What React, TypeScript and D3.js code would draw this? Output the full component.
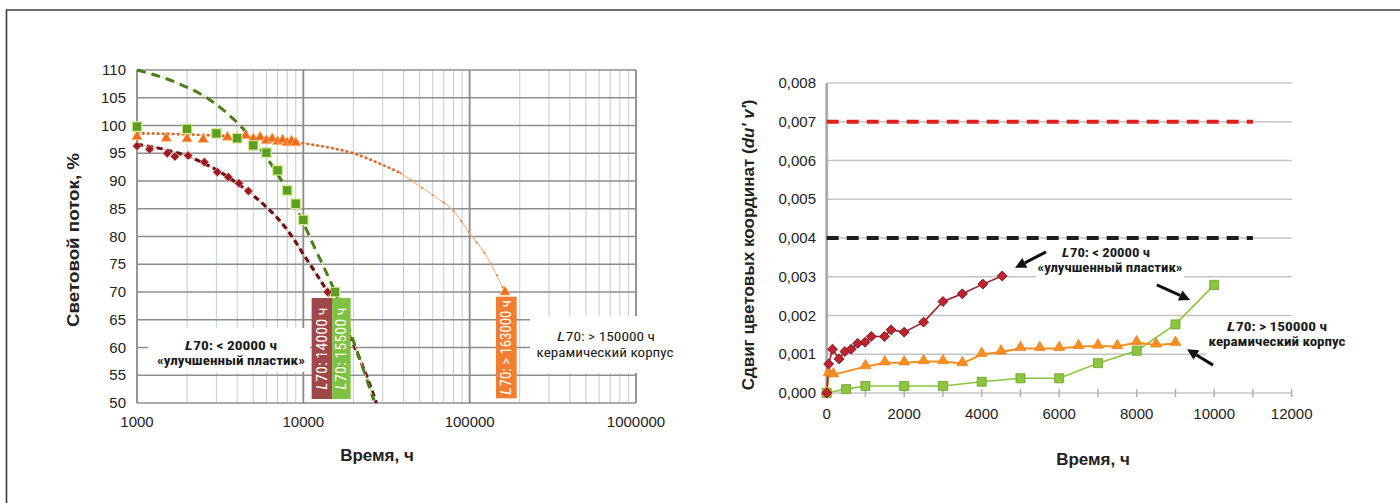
import React from "react";
import * as d3 from "d3";

// ---------- Left panel: relative luminous flux vs operating time (log axis) ----------
const fluxTicks = [50, 55, 60, 65, 70, 75, 80, 85, 90, 95, 100, 105, 110];
const hourTicksLog = [1000, 10000, 100000, 1000000];

// measured points, "improved plastic" package (dark red)
const plasticHours = [1000, 1190, 1520, 1690, 2030, 2540, 3040, 3540, 4100, 4670, 14000];
const plasticFlux = [96.3, 95.7, 95.0, 94.4, 94.6, 93.4, 91.6, 90.7, 89.6, 88.2, 70];

// measured points, second plastic package (green)
const greenHours = [1000, 2000, 3000, 4000, 5000, 6000, 7000, 8000, 9000, 10000, 15500];
const greenFlux = [99.8, 99.4, 98.6, 97.7, 96.4, 95.1, 91.9, 88.3, 85.9, 83.0, 70];

// measured points, ceramic package (orange)
const ceramicHours = [1000, 1500, 2000, 2500, 3000, 3500, 4000, 4500, 5000, 5500, 6000, 6500, 7000, 7500, 8000, 8500, 9000, 163000];
const ceramicFlux = [98.0, 97.7, 97.6, 97.5, 98.3, 97.9, 97.8, 98.2, 97.6, 97.9, 97.3, 97.6, 97.1, 97.4, 96.9, 97.2, 96.9, 70];

// fitted trend curves (projection to L70)
const plasticTrendHours = [1000, 1500, 2000, 3000, 4000, 5000, 6000, 7000, 8000, 9000, 10000, 12000, 14000, 17000, 20000, 23000, 27500];
const plasticTrendFlux = [96.6, 95.6, 94.5, 92.0, 89.6, 87.4, 85.3, 83.3, 81.2, 79.0, 76.8, 73.2, 70, 65.3, 60.6, 56.3, 50];

const greenTrendHours = [1000, 1700, 2750, 4160, 5900, 8300, 11900, 15500, 20000, 26500];
const greenTrendFlux = [110, 107.8, 104.6, 100, 94.6, 87.4, 77.5, 70, 61.2, 50.5];

const ceramicTrendHours = [1000, 2000, 4000, 7000, 10000, 15000, 20000, 28000, 38000, 50000, 63000, 80000, 100000, 127000, 163000];
const ceramicTrendFlux = [98.6, 98.4, 98.0, 97.5, 96.8, 95.9, 95.0, 93.3, 91.5, 89.1, 87.0, 84.6, 80.6, 76.3, 70];

// ---------- Right panel: colour shift du'v' vs operating time ----------
const shiftTicks = [0, 0.001, 0.002, 0.003, 0.004, 0.005, 0.006, 0.007, 0.008];
const hourTicksLin = [0, 2000, 4000, 6000, 8000, 10000, 12000];
const hourMinorTicks = [0, 1000, 2000, 3000, 4000, 5000, 6000, 7000, 8000, 9000, 10000, 11000, 12000];

const plasticShiftHours = [0, 50, 150, 320, 470, 630, 800, 990, 1150, 1490, 1660, 2000, 2500, 3000, 3500, 4030, 4530];
const plasticShift = [0, 0.00075, 0.00113, 0.00088, 0.00107, 0.00113, 0.00128, 0.00131, 0.00146, 0.00146, 0.00163, 0.00157, 0.00183, 0.00236, 0.00256, 0.00281, 0.00302];

const ceramicShiftHours = [0, 50, 170, 1000, 1500, 2000, 2500, 3000, 3500, 4000, 4500, 5000, 5500, 6000, 6500, 7000, 7500, 8000, 8500, 9000];
const ceramicShift = [0, 0.0005, 0.00047, 0.00068, 0.00078, 0.00078, 0.00081, 0.00081, 0.00076, 0.001, 0.00106, 0.00115, 0.00115, 0.00115, 0.0012, 0.00121, 0.0012, 0.0013, 0.00124, 0.00128];

const greenShiftHours = [0, 500, 1000, 2000, 3000, 4000, 5000, 6000, 7000, 8000, 9000, 10000];
const greenShift = [0, 0.0001, 0.00018, 0.00018, 0.00018, 0.00029, 0.00038, 0.00038, 0.00077, 0.00109, 0.00177, 0.00279];

const limitRed = 0.007;
const limitBlack = 0.004;
const limitEndHours = 11000;

const W = 1400;
const H = 503;

const tickFont = "'Liberation Sans', Arial, sans-serif";
const narrowFont = "'Liberation Sans Narrow', 'Roboto Condensed', 'DejaVu Sans Condensed', 'Liberation Sans', sans-serif";

const zip = (a: number[], b: number[]): [number, number][] => a.map((v, i) => [v, b[i]]);

const symbolDiamond: any = (d3 as any).symbolDiamond2 ?? d3.symbolDiamond;

// "L70: ..." label: italic L followed by the rest, squeezed to a given overall length
function L70Text(props: {
  x: number;
  y: number;
  len: number;
  rest: string;
  size: number;
  bold?: boolean;
  fill: string;
}) {
  const { x, y, len, rest, size, bold, fill } = props;
  const lw = len * 0.085;
  const x0 = x - len / 2;
  const common = {
    fontFamily: narrowFont,
    fontSize: size,
    fontWeight: bold ? "bold" : "normal",
    fill,
    lengthAdjust: "spacingAndGlyphs" as const,
  };
  return (
    <g>
      <text x={x0} y={y} fontStyle="italic" textLength={lw} {...common}>
        L
      </text>
      <text x={x0 + lw + 0.5} y={y} textLength={len - lw - 0.5} {...common}>
        {rest}
      </text>
    </g>
  );
}

function Arrow({ x1, y1, x2, y2 }: { x1: number; y1: number; x2: number; y2: number }) {
  const ang = Math.atan2(y2 - y1, x2 - x1);
  const len = 11;
  const half = 5.5;
  const bx = x2 - len * Math.cos(ang);
  const by = y2 - len * Math.sin(ang);
  const px = -Math.sin(ang) * half;
  const py = Math.cos(ang) * half;
  return (
    <g>
      <line x1={x1} y1={y1} x2={bx} y2={by} stroke="#111" strokeWidth={3} />
      <polygon points={`${x2},${y2} ${bx + px},${by + py} ${bx - px},${by - py}`} fill="#111" />
    </g>
  );
}

export default function App() {
  // ---- left scales ----
  const xL = d3.scaleLog().domain([1000, 1000000]).range([137, 636]);
  const yL = d3.scaleLinear().domain([50, 110]).range([403, 70]);

  // ---- right scales ----
  const xR = d3.scaleLinear().domain([0, 12000]).range([826.7, 1291.7]);
  const yR = d3.scaleLinear().domain([0, 0.008]).range([393, 83]);

  const lineL = d3
    .line<[number, number]>()
    .x((d) => xL(d[0]))
    .y((d) => yL(d[1]))
    .curve(d3.curveMonotoneX);

  const lineR = d3
    .line<[number, number]>()
    .x((d) => xR(d[0]))
    .y((d) => yR(d[1]));

  const minorLog = xL.ticks().filter((t) => !hourTicksLog.includes(t));

  const diamondL = d3.symbol().type(symbolDiamond).size(52)();
  const squareL = d3.symbol().type(d3.symbolSquare).size(90)();
  const triangleL = d3.symbol().type(d3.symbolTriangle).size(46)();

  const diamondR = d3.symbol().type(symbolDiamond).size(62)();
  const squareR = d3.symbol().type(d3.symbolSquare).size(82)();
  const triangleR = d3.symbol().type(d3.symbolTriangle).size(52)();

  const ceramicTrend = zip(ceramicTrendHours, ceramicTrendFlux);
  const ceramicTrendNear = ceramicTrend.filter((d) => d[0] <= 38000);
  const ceramicTrendFar = ceramicTrend.filter((d) => d[0] >= 38000);

  const boxY = 298;
  const boxH = 101;

  return (
    <svg
      width={W}
      height={H}
      viewBox={`0 0 ${W} ${H}`}
      style={{ position: "absolute", left: 0, top: 0, background: "#fff" }}
      fontFamily={tickFont}
    >
      <rect x={0} y={0} width={W} height={H} fill="#fff" />
      {/* outer frame */}
      <line x1={6} y1={10} x2={W} y2={10} stroke="#3a3a3a" strokeWidth={1.6} />
      <line x1={6.5} y1={10} x2={6.5} y2={H} stroke="#3a3a3a" strokeWidth={1.6} />

      {/* ================= LEFT PANEL ================= */}
      <g>
        {/* minor vertical grid */}
        {minorLog.map((t) => (
          <line key={"mv" + t} x1={xL(t)} x2={xL(t)} y1={yL(110)} y2={yL(50)} stroke="#c3ccd3" strokeWidth={1} />
        ))}
        {/* horizontal grid */}
        {fluxTicks.map((v) => (
          <line key={"hg" + v} x1={xL(1000)} x2={xL(1000000)} y1={yL(v)} y2={yL(v)} stroke="#8e8e8e" strokeWidth={1.5} />
        ))}
        {/* major vertical grid */}
        {hourTicksLog.map((t) => (
          <line key={"MV" + t} x1={xL(t)} x2={xL(t)} y1={yL(110)} y2={yL(50)} stroke="#8a8a8a" strokeWidth={1.8} />
        ))}

        {/* white backing for annotation texts */}
        <rect x={148} y={328} width={162} height={44} fill="#fff" />
        <rect x={530} y={316} width={152} height={57} fill="#fff" />

        {/* y tick labels */}
        {fluxTicks.map((v) => (
          <text key={"yl" + v} x={126} y={yL(v) + 5} textAnchor="end" fontSize={15} fill="#222">
            {v}
          </text>
        ))}
        {/* x tick labels */}
        {hourTicksLog.map((t) => (
          <text key={"xl" + t} x={xL(t)} y={427} textAnchor="middle" fontSize={15} fill="#222">
            {t}
          </text>
        ))}

        {/* trend curves */}
        <path d={lineL(zip(plasticTrendHours, plasticTrendFlux)) || ""} fill="none" stroke="#f1a6a6" strokeWidth={1} />
        <path d={lineL(zip(plasticTrendHours, plasticTrendFlux)) || ""} fill="none" stroke="#6e0f15" strokeWidth={3.2} strokeDasharray="6,4" />

        <path d={lineL(zip(greenTrendHours, greenTrendFlux)) || ""} fill="none" stroke="#e4eea2" strokeWidth={1} />
        <path d={lineL(zip(greenTrendHours, greenTrendFlux)) || ""} fill="none" stroke="#4c7d1d" strokeWidth={3} strokeDasharray="9,6" />

        <path d={lineL(ceramicTrendNear) || ""} fill="none" stroke="#f7c394" strokeWidth={1} />
        <path d={lineL(ceramicTrendNear) || ""} fill="none" stroke="#d4652a" strokeWidth={2.6} strokeDasharray="2.5,2.5" />
        <path d={lineL(ceramicTrendFar) || ""} fill="none" stroke="#f6b983" strokeWidth={1.1} />
        <path d={lineL(ceramicTrendFar) || ""} fill="none" stroke="#e08a52" strokeWidth={2} strokeDasharray="2,11" />

        {/* L70 boxes with vertical captions */}
        <rect x={xL(14000) - 16} y={boxY} width={20.5} height={boxH} fill="#a0474a" />
        <g transform={`translate(${xL(14000) - 0.5},${boxY + boxH / 2}) rotate(-90)`}>
          <L70Text x={0} y={0} len={82} rest="70: 14000 ч" size={14} fill="#fff" />
        </g>
        <rect x={xL(14000) + 4.5} y={boxY} width={18.5} height={boxH} fill="#7ec242" />
        <g transform={`translate(${xL(14000) + 18.8},${boxY + boxH / 2}) rotate(-90)`}>
          <L70Text x={0} y={0} len={82} rest="70: 15500 ч" size={14} fill="#fff" />
        </g>
        <rect x={xL(163000) - 9} y={296.7} width={20.7} height={101.6} fill="#f47d32" />
        <g transform={`translate(${xL(163000) + 6.3},${347.5}) rotate(-90)`}>
          <L70Text x={0} y={0} len={95} rest="70: > 163000 ч" size={14} fill="#fff" />
        </g>

        {/* markers */}
        {zip(ceramicHours, ceramicFlux).map((d, i) => (
          <path key={"ct" + i} d={triangleL || ""} transform={`translate(${xL(d[0])},${yL(d[1])})`} fill="#f26b1d" stroke="#f9b26a" strokeWidth={0.8} />
        ))}
        {zip(greenHours, greenFlux).map((d, i) => (
          <path key={"gs" + i} d={squareL || ""} transform={`translate(${xL(d[0])},${yL(d[1])})`} fill="#5c9e22" stroke="#d7e88a" strokeWidth={1.2} />
        ))}
        {zip(plasticHours, plasticFlux).map((d, i) => (
          <path key={"pd" + i} d={diamondL || ""} transform={`translate(${xL(d[0])},${yL(d[1])})`} fill="#9c1a22" stroke="#f0a0a0" strokeWidth={0.8} />
        ))}

        {/* annotations */}
        <L70Text x={231} y={350} len={92} rest="70: < 20000 ч" size={13} bold fill="#1a1a1a" />
        <text x={231} y={365} textAnchor="middle" fontFamily={narrowFont} fontWeight="bold" fontSize={13} fill="#1a1a1a" textLength={148} lengthAdjust="spacingAndGlyphs">
          «улучшенный пластик»
        </text>
        <L70Text x={606} y={341} len={98} rest="70: > 150000 ч" size={13} fill="#1a1a1a" />
        <text x={605} y={357} textAnchor="middle" fontFamily={narrowFont} fontSize={13} fill="#1a1a1a" textLength={137} lengthAdjust="spacingAndGlyphs">
          керамический корпус
        </text>

        {/* axis titles */}
        <text x={377} y={461} textAnchor="middle" fontSize={17} fontWeight="bold" fill="#222">
          Время, ч
        </text>
        <text
          transform="translate(79,240) rotate(-90)"
          textAnchor="middle"
          fontSize={17}
          fontWeight="bold"
          fill="#222"
          textLength={174}
          lengthAdjust="spacingAndGlyphs"
        >
          Световой поток, %
        </text>
      </g>

      {/* ================= RIGHT PANEL ================= */}
      <g>
        {/* horizontal grid */}
        {shiftTicks.map((v) => (
          <line key={"rg" + v} x1={xR(0)} x2={xR(12000)} y1={yR(v)} y2={yR(v)} stroke="#c4c4c4" strokeWidth={1.5} />
        ))}
        {/* x axis ticks */}
        {hourMinorTicks.map((t) => (
          <line key={"rt" + t} x1={xR(t)} x2={xR(t)} y1={yR(0) - 4} y2={yR(0) + 4} stroke="#b0b0b0" strokeWidth={1.5} />
        ))}
        {/* y axis line */}
        <line x1={xR(0)} x2={xR(0)} y1={yR(0.008)} y2={yR(0) + 1} stroke="#ababab" strokeWidth={2.8} />

        {/* white backing for annotation texts */}
        <rect x={1036} y={243} width={148} height={40} fill="#fff" />
        <rect x={1206} y={318} width={150} height={44} fill="#fff" />

        {/* tick labels */}
        {shiftTicks.map((v) => (
          <text key={"ryl" + v} x={816} y={yR(v) + 5} textAnchor="end" fontSize={15} fill="#222">
            {v.toFixed(3).replace(".", ",")}
          </text>
        ))}
        {hourTicksLin.map((t) => (
          <text key={"rxl" + t} x={xR(t)} y={419} textAnchor="middle" fontSize={15} fill="#222">
            {t}
          </text>
        ))}

        {/* limit lines */}
        <line x1={xR(0)} x2={xR(limitEndHours)} y1={yR(limitRed)} y2={yR(limitRed)} stroke="#e0201c" strokeWidth={4} strokeDasharray="12,8" />
        <line x1={xR(0)} x2={xR(limitEndHours)} y1={yR(limitBlack)} y2={yR(limitBlack)} stroke="#1e1e1e" strokeWidth={4} strokeDasharray="12,8" />

        {/* series lines */}
        <path d={lineR(zip(greenShiftHours, greenShift)) || ""} fill="none" stroke="#8cc63f" strokeWidth={1.6} />
        <path d={lineR(zip(ceramicShiftHours, ceramicShift)) || ""} fill="none" stroke="#f7901e" strokeWidth={2} />
        <path d={lineR(zip(plasticShiftHours, plasticShift)) || ""} fill="none" stroke="#a51c2a" strokeWidth={1.6} />

        {/* markers */}
        {zip(greenShiftHours, greenShift).map((d, i) => (
          <path key={"rgs" + i} d={squareR || ""} transform={`translate(${xR(d[0])},${yR(d[1])})`} fill="#8cc63f" stroke="#6c9e2c" strokeWidth={0.8} />
        ))}
        {zip(ceramicShiftHours, ceramicShift).map((d, i) => (
          <path key={"rct" + i} d={triangleR || ""} transform={`translate(${xR(d[0])},${yR(d[1]) - 1})`} fill="#f7901e" stroke="#e9761a" strokeWidth={0.6} />
        ))}
        {zip(plasticShiftHours, plasticShift).map((d, i) => (
          <path key={"rpd" + i} d={diamondR || ""} transform={`translate(${xR(d[0])},${yR(d[1])})`} fill="#c0242f" stroke="#7a1420" strokeWidth={1} />
        ))}

        {/* arrows */}
        <Arrow x1={xR(5660)} y1={yR(0.00364)} x2={xR(4860)} y2={yR(0.00323)} />
        <Arrow x1={xR(8520)} y1={yR(0.00279)} x2={xR(9380)} y2={yR(0.0024)} />
        <Arrow x1={xR(9970)} y1={yR(0.00072)} x2={xR(9300)} y2={yR(0.00113)} />

        {/* annotations */}
        <L70Text x={1106} y={257} len={88} rest="70: < 20000 ч" size={13} bold fill="#1a1a1a" />
        <text x={1110} y={272} textAnchor="middle" fontFamily={narrowFont} fontWeight="bold" fontSize={13} fill="#1a1a1a" textLength={145} lengthAdjust="spacingAndGlyphs">
          «улучшенный пластик»
        </text>
        <L70Text x={1277} y={331} len={100} rest="70: > 150000 ч" size={13} bold fill="#1a1a1a" />
        <text x={1277} y={346} textAnchor="middle" fontFamily={narrowFont} fontWeight="bold" fontSize={13} fill="#1a1a1a" textLength={137} lengthAdjust="spacingAndGlyphs">
          керамический корпус
        </text>

        {/* axis titles */}
        <text x={1093} y={465} textAnchor="middle" fontSize={17} fontWeight="bold" fill="#222">
          Время, ч
        </text>
        <text transform="translate(754,245) rotate(-90)" textAnchor="middle" fontSize={17} fontWeight="bold" fill="#222">
          Сдвиг цветовых координат (<tspan fontStyle="italic">du' v'</tspan>)
        </text>
      </g>
    </svg>
  );
}
